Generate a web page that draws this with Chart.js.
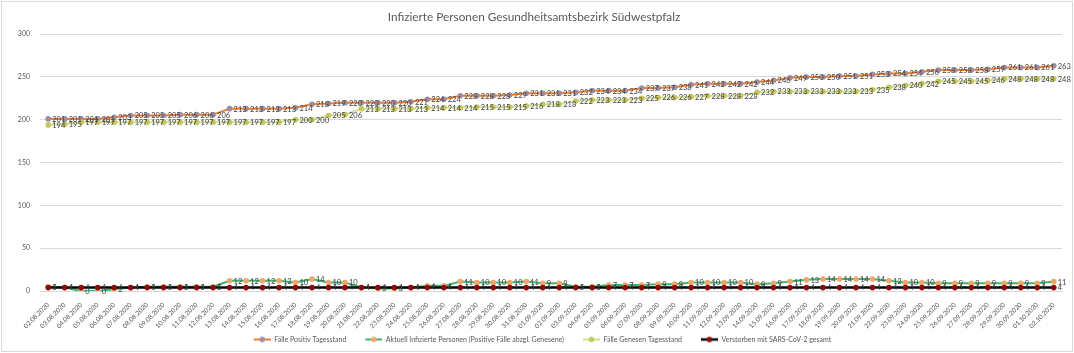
<!DOCTYPE html>
<html lang="de">
<head>
<meta charset="utf-8">
<title>Infizierte Personen Gesundheitsamtsbezirk Südwestpfalz</title>
<script src="https://cdn.jsdelivr.net/npm/chart.js@4.4.1/dist/chart.umd.min.js"></script>
<style>
    html, body { margin: 0; padding: 0; background: #ffffff; }
    #wrap { position: relative; width: 1074px; height: 353px; }
</style>
</head>
<body>
<div id="wrap"><canvas id="chart" width="1074" height="353"></canvas></div>
<script>
    'use strict';

    // Dates (x categories)
    const dates = [
        '02.08.2020', '03.08.2020', '04.08.2020', '05.08.2020', '06.08.2020', '07.08.2020', '08.08.2020',
        '09.08.2020', '10.08.2020', '11.08.2020', '12.08.2020', '13.08.2020', '14.08.2020', '15.08.2020',
        '16.08.2020', '17.08.2020', '18.08.2020', '19.08.2020', '20.08.2020', '21.08.2020', '22.08.2020',
        '23.08.2020', '24.08.2020', '25.08.2020', '26.08.2020', '27.08.2020', '28.08.2020', '29.08.2020',
        '30.08.2020', '31.08.2020', '01.09.2020', '02.09.2020', '03.09.2020', '04.09.2020', '05.09.2020',
        '06.09.2020', '07.09.2020', '08.09.2020', '09.09.2020', '10.09.2020', '11.09.2020', '12.09.2020',
        '13.09.2020', '14.09.2020', '15.09.2020', '16.09.2020', '17.09.2020', '18.09.2020', '19.09.2020',
        '20.09.2020', '21.09.2020', '22.09.2020', '23.09.2020', '24.09.2020', '25.09.2020', '26.09.2020',
        '27.09.2020', '28.09.2020', '29.09.2020', '30.09.2020', '01.10.2020', '02.10.2020'
    ];

    // Fälle Positiv Tagesstand
    const positiv = [
        201, 201, 201, 201, 203, 205, 205, 205, 206, 206, 206, 213, 213, 213, 213, 214,
        218, 219, 220, 220, 220, 220, 221, 224, 224, 228, 228, 228, 229, 231, 231, 231,
        232, 234, 234, 234, 237, 237, 238, 241, 242, 242, 242, 244, 246, 249, 250, 250,
        251, 251, 253, 254, 254, 256, 258, 258, 258, 259, 261, 261, 261, 263
    ];

    // Aktuell Infizierte Personen
    const aktuell = [
        5, 4, 0, 0, 2, 4, 5, 5, 5, 5, 5, 12, 12, 12, 12, 10,
        14, 10, 10, 4, 3, 3, 4, 6, 6, 11, 10, 10, 10, 11, 9, 9,
        5, 5, 7, 7, 7, 8, 8, 10, 10, 10, 10, 8, 9, 11, 13, 14,
        14, 14, 14, 12, 10, 10, 9, 9, 9, 9, 9, 9, 9, 11
    ];

    // Fälle Genesen Tagesstand
    const genesen = [
        194, 195, 197, 197, 197, 197, 197, 197, 197, 197, 197, 197, 197, 197, 197, 200,
        200, 205, 206, 213, 213, 213, 213, 214, 214, 214, 215, 215, 215, 216, 218, 218,
        222, 223, 223, 223, 225, 226, 226, 227, 228, 228, 228, 232, 233, 233, 233, 233,
        233, 233, 235, 238, 240, 242, 245, 245, 245, 246, 248, 248, 248, 248
    ];

    // Verstorben mit SARS-CoV-2 gesamt
    const verstorben = [
        4, 4, 4, 4, 4, 4, 4, 4, 4, 4, 4, 4, 4, 4, 4, 4,
        4, 4, 4, 4, 4, 4, 4, 4, 4, 4, 4, 4, 4, 4, 4, 4,
        4, 4, 4, 4, 4, 4, 4, 4, 4, 4, 4, 4, 4, 4, 4, 4,
        4, 4, 4, 4, 4, 4, 4, 4, 4, 4, 4, 4, 4, 4
    ];

    const yMin = 0;
    const yMax = 300;
    const yStep = 50;

    const FONT = 'Lato, "Open Sans", sans-serif';
    const TEXT = '#595959';

    const series = [
        { label: 'Fälle Positiv Tagesstand', data: positiv, line: '#ed7d31', marker: '#9f8c9c', width: 2 },
        { label: 'Aktuell Infizierte Personen (Positive Fälle abzgl. Genesene)', data: aktuell, line: '#3cb46e', marker: '#f0a868', width: 2 },
        { label: 'Fälle Genesen Tagesstand', data: genesen, line: '#cfe09a', marker: '#c5c65c', width: 2 },
        { label: 'Verstorben mit SARS-CoV-2 gesamt', data: verstorben, line: '#000000', marker: '#8b0a0a', width: 2.5 }
    ];

    // legend symbol box: blank gap on the left, then line + marker
    const SYM_W = 34;
    const SYM_GAP = 17;

    /**
     * Small legend symbol: line with a marker in the middle
     */
    function legendSymbol(s) {
        const c = document.createElement('canvas');
        c.width = SYM_W;
        c.height = 8;
        const g = c.getContext('2d');
        const mid = SYM_GAP + (SYM_W - SYM_GAP) / 2;
        g.strokeStyle = s.line;
        g.lineWidth = s.width;
        g.beginPath();
        g.moveTo(SYM_GAP, 4);
        g.lineTo(SYM_W, 4);
        g.stroke();
        g.fillStyle = s.marker;
        g.beginPath();
        g.arc(mid, 4, 2.8, 0, Math.PI * 2);
        g.fill();
        return c;
    }

    /**
     * Data labels right of every point (Excel style)
     */
    const pointLabels = {
        id: 'pointLabels',
        afterDatasetsDraw(chart) {
            const ctx = chart.ctx;
            ctx.save();
            ctx.font = '7.5px ' + FONT;
            ctx.fillStyle = '#404040';
            ctx.textAlign = 'left';
            ctx.textBaseline = 'middle';
            chart.data.datasets.forEach((ds, i) => {
                const meta = chart.getDatasetMeta(i);
                meta.data.forEach((pt, j) => {
                    ctx.fillText(String(ds.data[j]), pt.x + 4, pt.y + 0.5);
                });
            });
            ctx.restore();
        }
    };

    /**
     * White background and thin frame
     */
    const frame = {
        id: 'frame',
        beforeDraw(chart) {
            const ctx = chart.ctx;
            ctx.save();
            ctx.fillStyle = '#ffffff';
            ctx.fillRect(0, 0, chart.width, chart.height);
            ctx.strokeStyle = '#d9d9d9';
            ctx.lineWidth = 1;
            ctx.strokeRect(1.5, 1.5, chart.width - 3, chart.height - 3);
            ctx.restore();
        }
    };

    new Chart(document.getElementById('chart'), {
        type: 'line',
        data: {
            labels: dates,
            datasets: series.map((s, i) => ({
                label: s.label,
                data: s.data,
                borderColor: s.line,
                backgroundColor: s.marker,
                borderWidth: s.width,
                pointBackgroundColor: s.marker,
                pointBorderColor: s.marker,
                pointRadius: 2.8,
                pointBorderWidth: 0,
                tension: 0,
                fill: false,
                order: series.length - i
            }))
        },
        options: {
            responsive: false,
            animation: false,
            layout: {
                padding: { left: 6, right: 12, top: 0, bottom: 0 }
            },
            plugins: {
                tooltip: { enabled: false },
                title: {
                    display: true,
                    text: 'Infizierte Personen Gesundheitsamtsbezirk Südwestpfalz',
                    color: TEXT,
                    font: { family: FONT, size: 11.8, weight: 'normal' },
                    padding: { top: 10, bottom: 10 }
                },
                legend: {
                    display: true,
                    position: 'bottom',
                    labels: {
                        color: TEXT,
                        font: { family: FONT, size: 7 },
                        usePointStyle: true,
                        pointStyleWidth: SYM_W,
                        padding: 2,
                        generateLabels(chart) {
                            return series.map((s, i) => ({
                                text: s.label,
                                fillStyle: s.marker,
                                strokeStyle: s.line,
                                lineWidth: 0,
                                pointStyle: legendSymbol(s),
                                fontColor: TEXT,
                                hidden: false,
                                datasetIndex: i
                            }));
                        }
                    }
                }
            },
            scales: {
                x: {
                    offset: true,
                    grid: { display: false },
                    border: { display: true, color: '#d9d9d9' },
                    ticks: {
                        autoSkip: false,
                        minRotation: 45,
                        maxRotation: 45,
                        padding: 2,
                        color: TEXT,
                        font: { family: FONT, size: 6.5 }
                    },
                    afterFit(scale) { scale.height = 43; }
                },
                y: {
                    min: yMin,
                    max: yMax,
                    grid: { color: '#d9d9d9', drawTicks: false },
                    border: { display: false },
                    ticks: {
                        stepSize: yStep,
                        padding: 10,
                        color: TEXT,
                        font: { family: FONT, size: 7 }
                    },
                    afterFit(scale) { scale.width = 34; }
                }
            }
        },
        plugins: [frame, pointLabels]
    });
</script>
</body>
</html>
